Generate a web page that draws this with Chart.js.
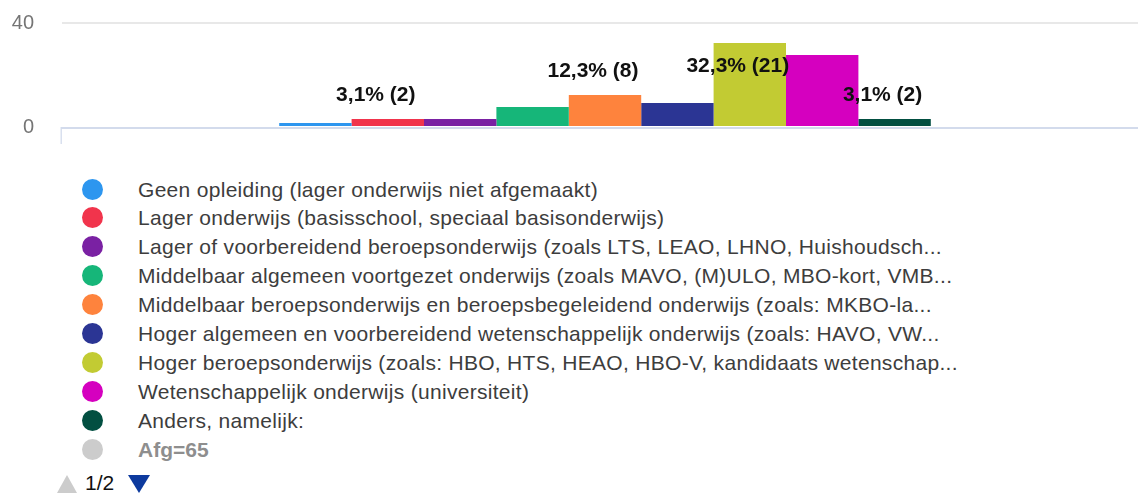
<!DOCTYPE html>
<html>
<head>
<meta charset="utf-8">
<script src="https://cdn.jsdelivr.net/npm/chart.js@4"></script>
<style>
  body { margin: 0; background: #fff; font-family: "Liberation Sans", Arial, sans-serif; overflow: hidden; }
  #wrap { position: absolute; left: 0; top: -17px; width: 1148px; height: 184px; }
  #legend { position: absolute; left: 0; top: 174.5px; }
  .row { position: relative; height: 28.9px; width: 1100px; }
  .dot { position: absolute; left: 82px; top: 4px; width: 21px; height: 21px; border-radius: 50%; }
  .txt { position: absolute; left: 138px; top: 0; line-height: 29px; font-size: 21px; color: #3d3d3d; white-space: nowrap; letter-spacing: 0.3px; }
  #pager { position: absolute; left: 57px; top: 472px; height: 22px; font-size: 21px; }
  .up { position: absolute; left: 0; top: 3px; width: 0; height: 0; border-left: 10px solid transparent; border-right: 10px solid transparent; border-bottom: 18px solid #cccccc; }
  .pg { position: absolute; left: 28px; top: 0; line-height: 22px; color: #111; }
  .down { position: absolute; left: 71px; top: 3px; width: 0; height: 0; border-left: 11px solid transparent; border-right: 11px solid transparent; border-top: 18px solid #0d3a9e; }
</style>
</head>
<body>
<div id="wrap"><canvas id="chart"></canvas></div>
<div id="legend"></div>
<div id="pager"><div class="up"></div><div class="pg">1/2</div><div class="down"></div></div>
<script>
// antwoorden (legenda) en aantallen
const categories = [
  'Geen opleiding (lager onderwijs niet afgemaakt)',
  'Lager onderwijs (basisschool, speciaal basisonderwijs)',
  'Lager of voorbereidend beroepsonderwijs (zoals LTS, LEAO, LHNO, Huishoudsch...',
  'Middelbaar algemeen voortgezet onderwijs (zoals MAVO, (M)ULO, MBO-kort, VMB...',
  'Middelbaar beroepsonderwijs en beroepsbegeleidend onderwijs (zoals: MKBO-la...',
  'Hoger algemeen en voorbereidend wetenschappelijk onderwijs (zoals: HAVO, VW...',
  'Hoger beroepsonderwijs (zoals: HBO, HTS, HEAO, HBO-V, kandidaats wetenschap...',
  'Wetenschappelijk onderwijs (universiteit)',
  'Anders, namelijk:'
];
const counts = [1, 2, 2, 5, 8, 6, 21, 18, 2];
const total = 65;
const showLabel = [false, true, false, false, true, false, true, false, true];
const colors = ['#2d96ef', '#f1344c', '#7a21a3', '#16b679', '#fe833d', '#2b3594', '#c2cb33', '#d500bf', '#024f41'];
const yTicks = [0, 40];

const pct = counts.map(c => c / total * 100);

// legenda in html
const legend = document.getElementById('legend');
categories.forEach((c, i) => {
  legend.innerHTML += '<div class="row"><div class="dot" style="background:' + colors[i] + '"></div><div class="txt">' + c + '</div></div>';
});
legend.innerHTML += '<div class="row"><div class="dot" style="background:#cccccc"></div><div class="txt" style="font-weight:bold;color:#8e8e8e;letter-spacing:0">Afg=' + total + '</div></div>';

// labels boven de balken + basislijn
const extras = {
  id: 'extras',
  afterDatasetsDraw(chart) {
    const ctx = chart.ctx;
    const area = chart.chartArea;
    ctx.save();
    ctx.strokeStyle = '#d3dbec';
    ctx.lineWidth = 2;
    ctx.beginPath();
    ctx.moveTo(area.left - 1, area.bottom + 1);
    ctx.lineTo(area.right, area.bottom + 1);
    ctx.stroke();
    ctx.lineWidth = 1.3;
    ctx.beginPath();
    ctx.moveTo(area.left - 0.8, area.bottom);
    ctx.lineTo(area.left - 0.8, area.bottom + 17);
    ctx.stroke();

    ctx.font = 'bold 21px "Liberation Sans", Arial, sans-serif';
    ctx.fillStyle = '#111';
    ctx.textAlign = 'center';
    ctx.textBaseline = 'middle';
    chart.data.datasets.forEach((ds, i) => {
      if (!showLabel[i]) return;
      const bar = chart.getDatasetMeta(i).data[0];
      let y = bar.y - 24;
      if (y < area.top + 20) y = bar.y + 23;
      const txt = pct[i].toFixed(1).replace('.', ',') + '% (' + counts[i] + ')';
      ctx.fillText(txt, bar.x - 12, y);
    });
    ctx.restore();
  }
};

new Chart(document.getElementById('chart'), {
  type: 'bar',
  data: {
    labels: [''],
    datasets: categories.map((c, i) => ({
      label: c,
      data: [pct[i]],
      backgroundColor: colors[i],
      borderWidth: 0,
      categoryPercentage: 0.6,
      barPercentage: 1
    }))
  },
  options: {
    responsive: true,
    maintainAspectRatio: false,
    animation: false,
    layout: { padding: { top: 6, bottom: 6, right: 0, left: 0 } },
    plugins: { legend: { display: false }, tooltip: { enabled: false } },
    scales: {
      x: { display: false },
      y: {
        min: 0,
        max: 40,
        afterBuildTicks: s => { s.ticks = yTicks.map(v => ({ value: v })); },
        afterFit: s => { s.width = 62; },
        border: { display: false },
        grid: {
          drawTicks: false,
          lineWidth: 2,
          color: c => c.tick && c.tick.value === 0 ? 'rgba(0,0,0,0)' : '#e8e8e8'
        },
        ticks: {
          padding: 28,
          color: '#757575',
          font: { size: 20, family: '"Liberation Sans", Arial, sans-serif' }
        }
      }
    }
  },
  plugins: [extras]
});
</script>
</body>
</html>
